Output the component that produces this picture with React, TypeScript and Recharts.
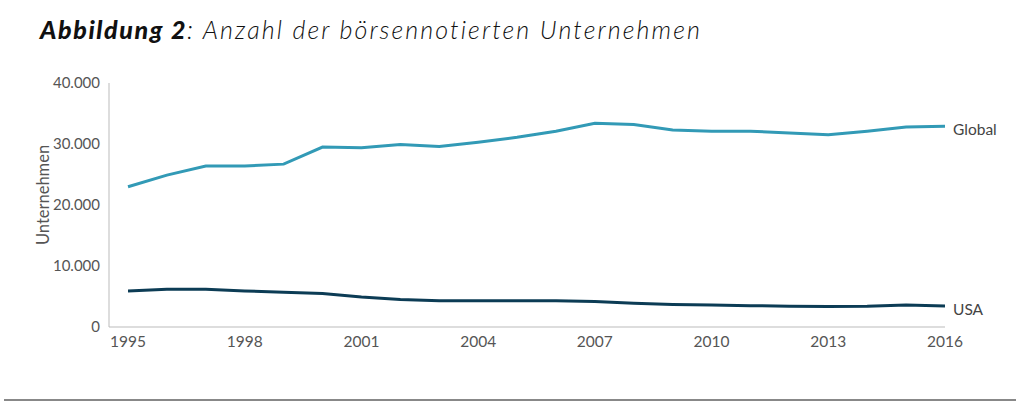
import * as React from 'react';
import { LineChart, Line, XAxis, YAxis, Label } from 'recharts';

const years = [
  1995, 1996, 1997, 1998, 1999, 2000, 2001, 2002, 2003, 2004, 2005,
  2006, 2007, 2008, 2009, 2010, 2011, 2012, 2013, 2014, 2015, 2016
];
const globalCount = [
  23000, 24900, 26400, 26400, 26700, 29500, 29400, 29900, 29600, 30300, 31100,
  32100, 33400, 33200, 32300, 32100, 32100, 31800, 31500, 32100, 32800, 32900
];
const usaCount = [
  5900, 6200, 6200, 5900, 5700, 5500, 4900, 4500, 4300, 4300, 4300,
  4300, 4200, 3900, 3700, 3600, 3500, 3400, 3350, 3400, 3600, 3450
];
const xTicks = [1995, 1998, 2001, 2004, 2007, 2010, 2013, 2016];
const yTicks = [0, 10000, 20000, 30000, 40000];

const data = years.map((year, i) => ({
  year,
  global: globalCount[i],
  usa: usaCount[i]
}));

const GLOBAL_COLOR = '#329ab6';
const USA_COLOR = '#0c3c55';
const FONT = 'Lato, "Noto Sans", sans-serif';

const fmt = (v: number) => v.toLocaleString('de-DE');

// series name next to the last point
const endLabel = (text: string) => (props: any) => {
  if (props.index !== years.length - 1) return null;
  return (
    <text
      x={props.x + 8}
      y={props.y + 9}
      fill="#444"
      fontSize={15.5}
      fontFamily={FONT}
    >
      {text}
    </text>
  );
};

export default function App() {
  return (
    <div
      style={{
        position: 'absolute',
        left: 0,
        top: 0,
        width: 1024,
        height: 406,
        background: '#fff'
      }}
    >
      <div
        style={{
          position: 'absolute',
          left: 40,
          top: 14,
          fontFamily: FONT,
          fontStyle: 'italic',
          fontSize: 25,
          color: '#111',
          whiteSpace: 'nowrap'
        }}
      >
        <span style={{ fontWeight: 900, letterSpacing: 1.6 }}>Abbildung 2</span>
        <span style={{ fontWeight: 300, letterSpacing: 2.1 }}>: Anzahl der börsennotierten Unternehmen</span>
      </div>
      <LineChart
        width={1024}
        height={406}
        data={data}
        margin={{ top: 83, right: 79, bottom: 49, left: 0 }}
      >
        <XAxis
          dataKey="year"
          type="number"
          domain={[1995, 2016]}
          ticks={xTicks}
          padding={{ left: 19, right: 0 }}
          height={30}
          tickLine={false}
          tickMargin={3}
          stroke="#bbb"
          tick={{ fill: '#555', fontSize: 15.5, fontFamily: FONT }}
        />
        <YAxis
          type="number"
          domain={[0, 40000]}
          ticks={yTicks}
          width={109}
          tickLine={false}
          tickMargin={3}
          tickFormatter={fmt}
          stroke="#bbb"
          tick={{ fill: '#555', fontSize: 15, fontFamily: FONT }}
        >
          <Label
            content={() => (
              <text
                x={43}
                y={195}
                transform="rotate(-90 43 195)"
                textAnchor="middle"
                dominantBaseline="central"
                fill="#555"
                fontSize={16.5}
                fontFamily={FONT}
              >
                Unternehmen
              </text>
            )}
          />
        </YAxis>
        <Line
          dataKey="global"
          stroke={GLOBAL_COLOR}
          strokeWidth={3}
          dot={false}
          isAnimationActive={false}
          label={endLabel('Global')}
        />
        <Line
          dataKey="usa"
          stroke={USA_COLOR}
          strokeWidth={3}
          dot={false}
          isAnimationActive={false}
          label={endLabel('USA')}
        />
      </LineChart>
      <div
        style={{
          position: 'absolute',
          left: 4,
          top: 399,
          width: 1012,
          height: 2,
          background: '#888'
        }}
      />
    </div>
  );
}
